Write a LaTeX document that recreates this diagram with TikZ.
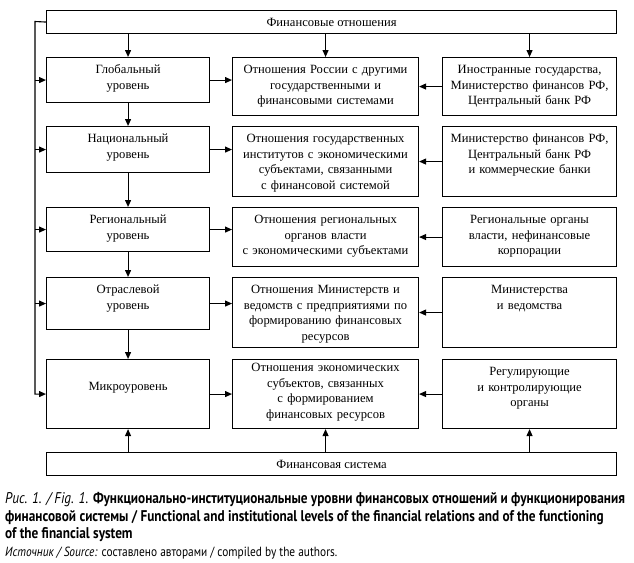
\documentclass[tikz,border=0pt]{standalone}
\usepackage{fontspec}
\setmainfont{Liberation Serif}
\newfontfamily\captionFont[FakeStretch=0.855]{PT Sans}
\usetikzlibrary{arrows.meta}

\begin{document}
\begin{tikzpicture}[x=1pt,y=-1pt,
  arr/.style={-{Triangle[length=7pt,width=6pt]}, line width=1.1pt},
  frameBox/.style={draw, line width=1.1pt, inner sep=0pt, anchor=north west,
    align=center, font=\fontsize{12.6}{15.5}\selectfont, text height=16pt},
  leftBox/.style={frameBox, text width=163pt},
  midBox/.style={frameBox, text width=186pt},
  rightBox/.style={frameBox, text width=174pt},
  wideBox/.style={draw, line width=1.1pt, inner sep=0pt, anchor=north west,
    minimum width=570pt, minimum height=23pt, font=\fontsize{12.6}{15.5}\selectfont},
  capLine/.style={anchor=base west, inner sep=0pt}]
  \useasboundingbox (0,0) rectangle (634,562);

  % top and bottom frames
  \node[wideBox] (finRel) at (46,10) {Финансовые отношения};
  \node[wideBox] (finSys) at (46,452) {Финансовая система};

  % levels (left column)
  \node[leftBox, text depth=29pt] (glob) at (46,57) {Глобальный\\уровень};
  \node[leftBox, text depth=30pt] (nat) at (46,126) {Национальный\\уровень};
  \node[leftBox, text depth=28pt] (reg) at (46,207) {Региональный\\уровень};
  \node[leftBox, text depth=36pt] (sect) at (46,277) {Отраслевой\\уровень};
  \node[leftBox, text height=31pt, text depth=38pt] (micro) at (46,359) {Микроуровень};

  % relations (middle column)
  \node[midBox, text depth=42pt] (relA) at (232,57)
    {Отношения России с другими\\государственными и\\финансовыми системами};
  \node[midBox, text depth=54pt] (relB) at (232,126)
    {Отношения государственных\\институтов с экономическими\\субъектами, связанными\\с финансовой системой};
  \node[midBox, text depth=43pt] (relC) at (232,207)
    {Отношения региональных\\органов власти\\с экономическими субъектами};
  \node[midBox, text depth=54pt] (relD) at (232,277)
    {Отношения Министерств и\\ведомств с предприятиями по\\формированию финансовых\\ресурсов};
  \node[midBox, text height=12pt, text depth=57pt] (relE) at (232,359)
    {Отношения экономических\\субъектов, связанных\\с формированием\\финансовых ресурсов};

  % institutions (right column)
  \node[rightBox, text depth=42pt] (instA) at (442,57)
    {Иностранные государства,\\Министерство финансов РФ,\\Центральный банк РФ};
  \node[rightBox, text depth=54pt] (instB) at (442,126)
    {Министерство финансов РФ,\\Центральный банк РФ\\и коммерческие банки};
  \node[rightBox, text depth=43pt] (instC) at (442,207)
    {Региональные органы\\власти, нефинансовые\\корпорации};
  \node[rightBox, text depth=54pt] (instD) at (442,277)
    {Министерства\\и ведомства};
  \node[rightBox, text depth=53pt] (instE) at (442,359)
    {Регулирующие\\и контролирующие\\органы};

  % arrows from the top frame
  \draw[arr] (finRel.south -| glob.north) -- (glob.north);
  \draw[arr] (finRel.south -| relA.north) -- (relA.north);
  \draw[arr] (finRel.south -| instA.north) -- (instA.north);

  % arrows from the bottom frame
  \draw[arr] (finSys.north -| micro.south) -- (micro.south);
  \draw[arr] (finSys.north -| relE.south) -- (relE.south);
  \draw[arr] (finSys.north -| instE.south) -- (instE.south);

  % chain of levels
  \foreach \upper/\lower in {glob/nat, nat/reg, reg/sect, sect/micro}
    \draw[arr] (\upper.south) -- (\lower.north);

  % rows: level -> relation <- institution
  \foreach \lvl/\rel/\inst in {glob/relA/instA, nat/relB/instB, reg/relC/instC,
      sect/relD/instD, micro/relE/instE} {
    \draw[arr] (\lvl.east) -- (\lvl.east -| \rel.west);
    \draw[arr] (\inst.west) -- (\inst.west -| \rel.east);
  }

  % feedback bus on the left
  \coordinate (bus) at (35,21.5);
  \draw[arr] (finRel.west) -- (bus) |- (micro.west);
  \foreach \lvl in {glob, nat, reg, sect}
    \draw[arr] (bus |- \lvl.west) -- (\lvl.west);

  % caption
  \node[capLine, font=\captionFont\fontsize{15.5}{17}\selectfont] (capA) at (5,503)
    {\textit{Рис. 1. / Fig. 1.} \textbf{Функционально-институциональные уровни финансовых отношений и функционирования}};
  \node[capLine, font=\captionFont\fontsize{15.5}{17}\selectfont] (capB) at (5,521)
    {\textbf{финансовой системы / Functional and institutional levels of the financial relations and of the functioning}};
  \node[capLine, font=\captionFont\fontsize{15.5}{17}\selectfont] (capC) at (5,538)
    {\textbf{of the financial system}};
  \node[capLine, font=\captionFont\fontsize{13.3}{15}\selectfont] (capD) at (5,556)
    {\textit{Источник / Source:} составлено авторами / compiled by the authors.};
\end{tikzpicture}
\end{document}
